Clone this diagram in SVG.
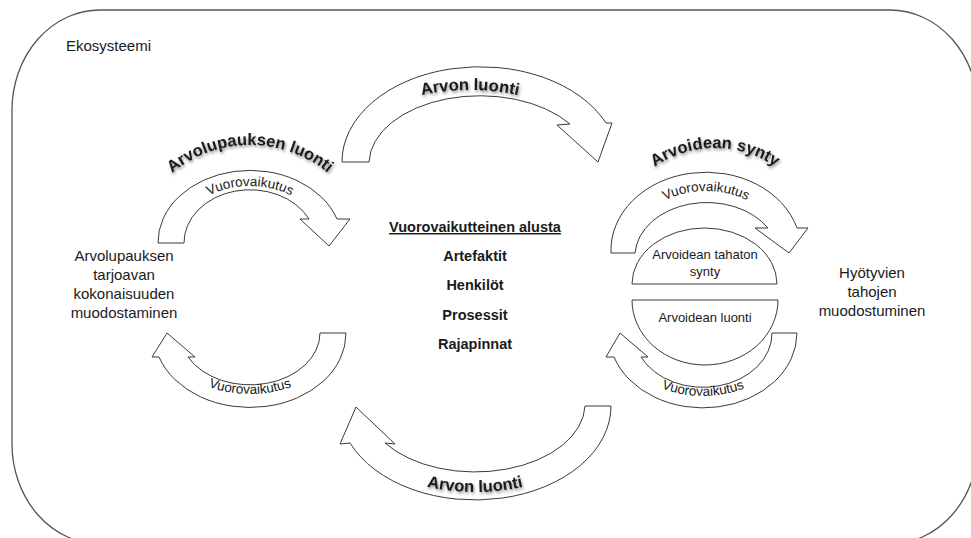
<svg xmlns="http://www.w3.org/2000/svg" width="971" height="538" viewBox="0 0 971 538">
<style>
.frame{fill:#fff;stroke:#555;stroke-width:1.3}
.arr{fill:#fff;stroke:#3a3a3a;stroke-width:1}
.dome{fill:#fff;stroke:#3a3a3a;stroke-width:1}
.t{font-family:"Liberation Sans",Arial,sans-serif;fill:#1a1a1a}
.lbl{font-size:15px;text-anchor:middle}
.ctr{font-size:14.5px;font-weight:bold;text-anchor:middle}
.vv{font-size:13.5px}
.ttl{font-size:16.5px;font-weight:bold;filter:url(#sh)}
.dt{font-size:13px;text-anchor:middle}
</style>
<defs>
<filter id="sh" x="-20%" y="-50%" width="140%" height="200%">
<feDropShadow dx="1" dy="2" stdDeviation="1.4" flood-color="#000" flood-opacity="0.45"/>
</filter>
<path id="pTopTitle" d="M310,200 A160,110 0 0 1 630,200"/>
<path id="pBotTitle" d="M330,400 A145,92 0 0 0 620,400"/>
<path id="pLTitle" d="M130,262 A120,117 0 0 1 370,262"/>
<path id="pRTitle" d="M605,262 A110,114 0 0 1 825,262"/>
<path id="pLTop" d="M176,243 A74,57 0 0 1 324,243"/>
<path id="pRTop" d="M628,253 A78,62 0 0 1 784,253"/>
<path id="pLBot" d="M162,333 A88,61 0 0 0 338,333"/>
<path id="pRBot" d="M617,333 A86,63 0 0 0 789,333"/>
</defs>

<g id="ekosysteemi">
<rect class="frame" x="12" y="10" width="966" height="534" rx="88" ry="100"/>
<text class="t" x="66" y="51" font-size="15">Ekosysteemi</text>
</g>

<g id="connectors">
<path class="arr" d="M342,162 A138,95 0 0 1 606,123 L612,123 L598,162 L557,125 L570,124 A111,68 0 0 0 369,162 Z"/>
<path class="arr" d="M158,243 A92,72 0 0 1 337,219 L350,219 L329,246 L300,219 L309,219 A66,53 0 0 0 184,243 Z"/>
<path class="arr" d="M611,253 A95,78 0 0 1 797,228 L808,228 L789,253 L755,228 L768,228 A72,54 0 0 0 635,253 Z"/>
<path class="arr" d="M346,333 A96,74 0 0 1 159,357 L152,357 L167,333 L195,357 L188,357 A70,52 0 0 0 320,333 Z"/>
<path class="arr" d="M797,333 A94,75 0 0 1 614,357 L606,357 L620,333 L648,357 L641,357 A69,54 0 0 0 772,333 Z"/>
<path class="arr" d="M611,406 A136,94 0 0 1 350,443 L340,444 L356,407 L395,444 L385,443 A110,68 0 0 0 585,406 Z"/>
<text class="t ttl"><textPath href="#pTopTitle" startOffset="50%" text-anchor="middle">Arvon luonti</textPath></text>
<text class="t ttl"><textPath href="#pBotTitle" startOffset="50%" text-anchor="middle">Arvon luonti</textPath></text>
<text class="t vv"><textPath href="#pLTop" startOffset="50%" text-anchor="middle">Vuorovaikutus</textPath></text>
<text class="t vv"><textPath href="#pRTop" startOffset="50%" text-anchor="middle">Vuorovaikutus</textPath></text>
<text class="t vv"><textPath href="#pLBot" startOffset="50%" text-anchor="middle">Vuorovaikutus</textPath></text>
<text class="t vv"><textPath href="#pRBot" startOffset="50%" text-anchor="middle">Vuorovaikutus</textPath></text>
</g>

<g id="arvolupauksen-luonti">
<text class="t ttl"><textPath href="#pLTitle" startOffset="50%" text-anchor="middle">Arvolupauksen luonti</textPath></text>
</g>

<g id="arvoidean-synty">
<text class="t ttl"><textPath href="#pRTitle" startOffset="50%" text-anchor="middle">Arvoidean synty</textPath></text>
</g>

<g id="arvolupauksen-kokonaisuus">
<text class="t lbl" x="124" y="261">Arvolupauksen</text>
<text class="t lbl" x="124" y="280">tarjoavan</text>
<text class="t lbl" x="124" y="299">kokonaisuuden</text>
<text class="t lbl" x="124" y="318">muodostaminen</text>
</g>

<g id="hyotyvien-tahojen">
<text class="t lbl" x="872" y="278">Hyötyvien</text>
<text class="t lbl" x="872" y="297">tahojen</text>
<text class="t lbl" x="872" y="316">muodostuminen</text>
</g>

<g id="alusta">
<text class="t ctr" x="475" y="232" text-decoration="underline">Vuorovaikutteinen alusta</text>
<text class="t ctr" x="475" y="261">Artefaktit</text>
<text class="t ctr" x="475" y="290">Henkilöt</text>
<text class="t ctr" x="475" y="320">Prosessit</text>
<text class="t ctr" x="475" y="349">Rajapinnat</text>
</g>

<g id="arvoidean-tahaton-synty">
<path class="dome" d="M632,284 A72.5,56 0 0 1 777,284 Z"/>
<text class="t dt" x="705" y="259">Arvoidean tahaton</text>
<text class="t dt" x="705" y="276">synty</text>
</g>

<g id="arvoidean-luonti">
<path class="dome" d="M632,300 L778,300 A73,65 0 0 1 632,300 Z"/>
<text class="t dt" x="705" y="322">Arvoidean luonti</text>
</g>
</svg>
